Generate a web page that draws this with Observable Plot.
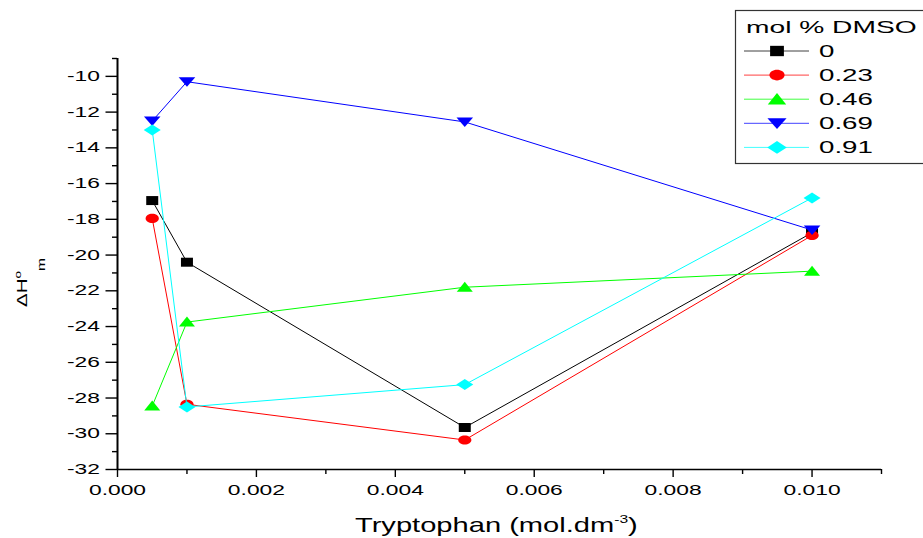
<!DOCTYPE html>
<html>
<head>
<meta charset="utf-8">
<script src="https://cdn.jsdelivr.net/npm/d3@7"></script>
<script src="https://cdn.jsdelivr.net/npm/@observablehq/plot@0.6"></script>
<style>
  html, body { margin: 0; padding: 0; background: #fff; }
  #wrap { position: relative; width: 923px; height: 538px; overflow: hidden; font-family: "Liberation Sans", Arial, sans-serif; }
  #chart { position: absolute; left: 0; top: 0; }
  #overlay { position: absolute; left: 0; top: 0; pointer-events: none; }
</style>
</head>
<body>
<div id="wrap">
  <div id="chart"></div>
  <svg id="overlay" width="923" height="538"></svg>
</div>
<script>
// ---- data ----
const tryptophan = [0.0005, 0.001, 0.005, 0.010];
const seriesNames = ["0", "0.23", "0.46", "0.69", "0.91"];
const dmso0   = [-16.95, -20.4, -29.65, -18.75];
const dmso023 = [-17.95, -28.35, -30.35, -18.9];
const dmso046 = [-28.45, -23.75, -21.8, -20.9];
const dmso069 = [-12.5, -10.3, -12.55, -18.6];
const dmso091 = [-13.0, -28.5, -27.25, -16.8];
const seriesValues = [dmso0, dmso023, dmso046, dmso069, dmso091];
const seriesColors = ["#000000", "#ff0000", "#00ff00", "#0000ff", "#00ffff"];
const xTicks = [0, 0.002, 0.004, 0.006, 0.008, 0.010];
const xMinorTicks = [0.001, 0.003, 0.005, 0.007, 0.009, 0.011];
const yTicks = [-32, -30, -28, -26, -24, -22, -20, -18, -16, -14, -12, -10];
const yMinorTicks = [-31, -29, -27, -25, -23, -21, -19, -17, -15, -13, -11, -9];
const legendTitle = "mol % DMSO";
const xTitle = "Tryptophan (mol.dm";
const xTitleSup = "-3";

// ---- symbols (wide, as in the original rendering) ----
const K = 0.5522847;
function ellipse(c, rx, ry) {
  c.moveTo(rx, 0);
  c.bezierCurveTo(rx, ry * K, rx * K, ry, 0, ry);
  c.bezierCurveTo(-rx * K, ry, -rx, ry * K, -rx, 0);
  c.bezierCurveTo(-rx, -ry * K, -rx * K, -ry, 0, -ry);
  c.bezierCurveTo(rx * K, -ry, rx, -ry * K, rx, 0);
  c.closePath();
}
const symSquare  = {draw(c) { c.moveTo(-6, -4.5); c.lineTo(6, -4.5); c.lineTo(6, 4.5); c.lineTo(-6, 4.5); c.closePath(); }};
const symCircle  = {draw(c) { ellipse(c, 6.6, 4.6); }};
const symUp      = {draw(c) { c.moveTo(0, -5.5); c.lineTo(8, 4.5); c.lineTo(-8, 4.5); c.closePath(); }};
const symDown    = {draw(c) { c.moveTo(0, 5); c.lineTo(8.3, -4.5); c.lineTo(-8.3, -4.5); c.closePath(); }};
const symDiamond = {draw(c) { c.moveTo(0, -5.5); c.lineTo(8.5, 0); c.lineTo(0, 5.5); c.lineTo(-8.5, 0); c.closePath(); }};
const seriesSymbols = [symSquare, symCircle, symUp, symDown, symDiamond];

const series = seriesNames.map((name, i) => ({
  name, color: seriesColors[i], symbol: seriesSymbols[i],
  data: tryptophan.map((x, j) => ({x, y: seriesValues[i][j]}))
}));

const TEXT_SX = 1.63;

const marks = [];
series.forEach(s => {
  marks.push(Plot.line(s.data, {x: "x", y: "y", stroke: s.color, strokeWidth: 1}));
  marks.push(Plot.dot(s.data, {x: "x", y: "y", fill: s.color, stroke: "none", symbol: s.symbol, r: 5}));
});

const chart = Plot.plot({
  width: 923,
  height: 538,
  marginLeft: 117,
  marginRight: 42,
  marginTop: 58,
  marginBottom: 69,
  style: {fontFamily: "'Liberation Sans', Arial, sans-serif", fontSize: "14px", color: "#000", background: "#fff", overflow: "visible"},
  x: {domain: [0, 0.011], label: null},
  y: {domain: [-32, -9], label: null},
  marks: [
    Plot.axisX({ticks: xTicks, tickSize: 8, tickPadding: 8, strokeWidth: 1.4, tickFormat: d3.format(".3f"), fontSize: 14, label: null}),
    Plot.axisX({ticks: xMinorTicks, tickSize: 5, strokeWidth: 1.4, tickFormat: () => "", label: null}),
    Plot.axisY({ticks: yTicks, tickSize: 11.5, tickPadding: 6, strokeWidth: 1.4, tickFormat: d => String(d), fontSize: 14, label: null}),
    Plot.axisY({ticks: yMinorTicks, tickSize: 5, strokeWidth: 1.4, tickFormat: () => "", label: null}),
    Plot.ruleY([-32], {stroke: "#000", strokeWidth: 1.5}),
    Plot.ruleX([0], {stroke: "#000", strokeWidth: 2}),
    ...marks
  ]
});
document.getElementById("chart").appendChild(chart);

// stretch tick label text horizontally like the original rendering
chart.querySelectorAll("text").forEach(t => {
  const tr = t.getAttribute("transform") || "";
  const xa = t.getAttribute("x");
  let tx = 0;
  if (xa !== null && /^-?[\d.]+(px)?$/.test(xa.trim())) { tx = parseFloat(xa); t.removeAttribute("x"); }
  t.setAttribute("transform", `${tr} translate(${tx},0) scale(${TEXT_SX},1)`);
});

// ---- overlay: axis titles and legend ----
const ov = d3.select("#overlay");
const font = "'Liberation Sans', Arial, sans-serif";

// y title: ΔH°m
const yt = ov.append("text")
  .attr("transform", `translate(27,307) rotate(-90) scale(1.42,1)`)
  .attr("font-family", font).attr("font-size", 14.5).attr("fill", "#000");
yt.append("tspan").text("ΔH");
yt.append("tspan").attr("font-size", 9.5).attr("dy", -6.5).text("o");
yt.append("tspan").attr("font-size", 11).attr("dy", 25).text("m");

// x title
const xt = ov.append("text")
  .attr("transform", `translate(355,532) scale(1.42,1)`)
  .attr("font-family", font).attr("font-size", 20.5).attr("fill", "#000");
xt.append("tspan").text(xTitle);
xt.append("tspan").attr("font-size", 11).attr("dy", -9).text(xTitleSup);
xt.append("tspan").attr("dy", 9).text(")");

// legend
const lg = ov.append("g");
lg.append("rect").attr("x", 735.5).attr("y", 10.5).attr("width", 260).attr("height", 153)
  .attr("fill", "#fff").attr("stroke", "#333").attr("stroke-width", 1.2);
lg.append("text").attr("transform", `translate(746,33.3) scale(${TEXT_SX},1)`)
  .attr("font-family", font).attr("font-size", 17.3).attr("fill", "#000").text(legendTitle);
series.forEach((s, i) => {
  const cy = 51 + i * 24.1;
  const row = lg.append("g");
  row.append("line").attr("x1", 744).attr("x2", 809).attr("y1", cy).attr("y2", cy)
    .attr("stroke", s.color).attr("stroke-width", 1).attr("stroke-opacity", 0.75);
  row.append("path").attr("transform", `translate(777,${cy}) scale(1.15)`)
    .attr("d", d3.symbol(s.symbol, 64)()).attr("fill", s.color);
  row.append("text").attr("transform", `translate(819,${cy + 6}) scale(${TEXT_SX},1)`)
    .attr("font-family", font).attr("font-size", 17).attr("fill", "#000").text(s.name);
});
</script>
</body>
</html>
